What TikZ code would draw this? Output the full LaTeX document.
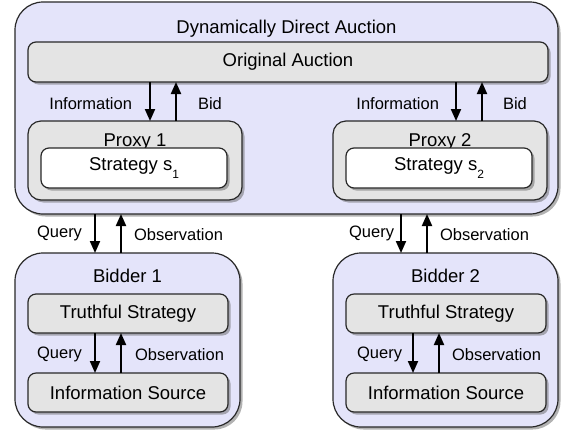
\documentclass[tikz,border=0pt]{standalone}
\usepackage{fontspec}
\setmainfont{Liberation Sans}
\usetikzlibrary{arrows.meta, positioning, shadows}
\definecolor{lavender}{RGB}{228,228,250}
\definecolor{boxgray}{RGB}{228,228,228}
\definecolor{edgegray}{RGB}{40,40,40}
\newcommand{\lowsub}[1]{\raisebox{-0.4em}{\fontsize{12}{14}\selectfont #1}}

\begin{document}
\begin{tikzpicture}[
            x=1pt, y=1pt,
            shade/.style={drop shadow={shadow xshift=2.5pt, shadow yshift=-2.5pt, fill=black!60}},
            frame/.style={draw=edgegray, line width=1.2pt, inner sep=0pt, outer sep=0pt, shade},
            outer/.style={frame, fill=lavender, rounded corners=28pt},
            proxy/.style={frame, fill=boxgray, rounded corners=13pt},
            box/.style={frame, fill=boxgray, rounded corners=8pt, font=\fontsize{18.5}{21}\selectfont},
            title/.style={font=\fontsize{18.5}{21}\selectfont, inner sep=0pt},
            lbl/.style={font=\fontsize{16.5}{19}\selectfont, inner sep=0pt},
            flow/.style={line width=2pt, -{Triangle[length=12pt, width=10pt]}}
        ]
            \useasboundingbox (0,0) rectangle (569,-432);

            % Auction side
            \node[outer, minimum width=543, minimum height=212] (dda) at (286.5,-108) {};
            \node[title, below=18pt of dda.north] (ddatitle) {Dynamically Direct Auction};
            \node[box, minimum width=520, minimum height=40] (auction) at (288,-62) {Original Auction};
            \node[proxy, minimum width=214, minimum height=79] (proxy1) at (135,-160.5) {};
            \node[title, below=12.5pt of proxy1.north] (proxy1title) {Proxy 1};
            \node[box, fill=white, minimum width=186, minimum height=40] (strat1) at (134,-168) {Strategy s\lowsub{1}};
            \node[proxy, minimum width=214, minimum height=79] (proxy2) at (440,-160.5) {};
            \node[title, below=12.5pt of proxy2.north] (proxy2title) {Proxy 2};
            \node[box, fill=white, minimum width=186, minimum height=40] (strat2) at (439,-168) {Strategy s\lowsub{2}};

            % Bidders
            \node[outer, minimum width=225, minimum height=174] (bidder1) at (127.5,-340) {};
            \node[title, below=16pt of bidder1.north] (bidder1title) {Bidder 1};
            \node[box, minimum width=200, minimum height=39] (truth1) at (128,-313.5) {Truthful Strategy};
            \node[box, minimum width=200, minimum height=39] (source1) at (128,-392.5) {Information Source};
            \node[outer, minimum width=225, minimum height=174] (bidder2) at (445.5,-340) {};
            \node[title, below=16pt of bidder2.north] (bidder2title) {Bidder 2};
            \node[box, minimum width=200, minimum height=39] (truth2) at (446,-313.5) {Truthful Strategy};
            \node[box, minimum width=200, minimum height=39] (source2) at (446,-392.5) {Information Source};

            % Connections
            \draw[flow] ([xshift=15pt]proxy1.north |- auction.south) -- ([xshift=15pt]proxy1.north)
                node[lbl, midway, anchor=east, xshift=-17pt, yshift=-2pt] {Information};
            \draw[flow] ([xshift=41pt]proxy1.north) -- ([xshift=41pt]proxy1.north |- auction.south)
                node[lbl, midway, anchor=west, xshift=21pt, yshift=-2pt] {Bid};
            \draw[flow] ([xshift=16pt]proxy2.north |- auction.south) -- ([xshift=16pt]proxy2.north)
                node[lbl, midway, anchor=east, xshift=-16pt, yshift=-2pt] {Information};
            \draw[flow] ([xshift=42pt]proxy2.north) -- ([xshift=42pt]proxy2.north |- auction.south)
                node[lbl, midway, anchor=west, xshift=20pt, yshift=-2pt] {Bid};

            \draw[flow] ([xshift=-32.5pt]bidder1.north |- dda.south) -- ([xshift=-32.5pt]bidder1.north)
                node[lbl, midway, anchor=east, xshift=-12pt] {Query};
            \draw[flow] ([xshift=-6.5pt]bidder1.north) -- ([xshift=-6.5pt]bidder1.north |- dda.south)
                node[lbl, midway, anchor=west, xshift=12pt, yshift=-1pt] {Observation};
            \draw[flow] ([xshift=-44.5pt]bidder2.north |- dda.south) -- ([xshift=-44.5pt]bidder2.north)
                node[lbl, midway, anchor=east, xshift=-6pt] {Query};
            \draw[flow] ([xshift=-18.5pt]bidder2.north) -- ([xshift=-18.5pt]bidder2.north |- dda.south)
                node[lbl, midway, anchor=west, xshift=12pt, yshift=-1pt] {Observation};

            \draw[flow] ([xshift=-33pt]truth1.south) -- ([xshift=-33pt]source1.north)
                node[lbl, midway, anchor=east, xshift=-12pt, yshift=-1pt] {Query};
            \draw[flow] ([xshift=-7pt]source1.north) -- ([xshift=-7pt]truth1.south)
                node[lbl, midway, anchor=west, xshift=13pt, yshift=-2pt] {Observation};
            \draw[flow] ([xshift=-33pt]truth2.south) -- ([xshift=-33pt]source2.north)
                node[lbl, midway, anchor=east, xshift=-10pt, yshift=-1pt] {Query};
            \draw[flow] ([xshift=-7pt]source2.north) -- ([xshift=-7pt]truth2.south)
                node[lbl, midway, anchor=west, xshift=12pt, yshift=-2pt] {Observation};
        \end{tikzpicture}
\end{document}
